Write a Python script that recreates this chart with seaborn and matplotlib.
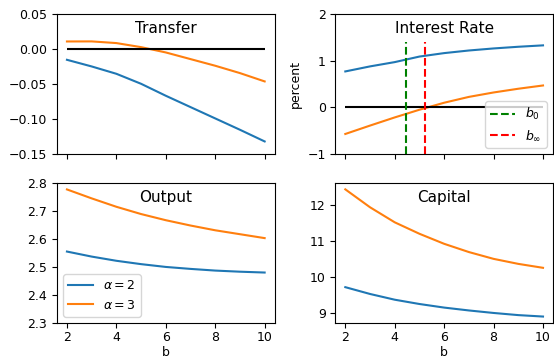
import numpy as np
import pandas as pd
import matplotlib
matplotlib.use("Agg")
import matplotlib.pyplot as plt
from matplotlib.lines import Line2D
import seaborn as sns

# ---- data ----
b = [2, 3, 4, 5, 6, 7, 8, 9, 10]
alpha_labels = [r"$\alpha = 2$", r"$\alpha = 3$"]

transfer_a2 = [-0.0153, -0.0248, -0.0353, -0.0496, -0.0667, -0.0829, -0.0991, -0.1153, -0.132]
transfer_a3 = [0.0109, 0.0110, 0.0086, 0.0028, -0.0048, -0.0143, -0.0238, -0.0343, -0.0462]

rate_a2 = [0.771, 0.879, 0.971, 1.09, 1.164, 1.22, 1.264, 1.30, 1.33]
rate_a3 = [-0.57, -0.39, -0.215, -0.05, 0.10, 0.225, 0.32, 0.40, 0.47]

output_a2 = [2.555, 2.537, 2.522, 2.510, 2.500, 2.493, 2.487, 2.483, 2.480]
output_a3 = [2.777, 2.745, 2.715, 2.689, 2.667, 2.648, 2.631, 2.617, 2.603]

capital_a2 = [9.71, 9.52, 9.36, 9.24, 9.14, 9.06, 8.99, 8.93, 8.89]
capital_a3 = [12.44, 11.94, 11.52, 11.20, 10.92, 10.69, 10.50, 10.36, 10.25]

b0 = 4.44
b_inf = 5.22

titles = ["Transfer", "Interest Rate", "Output", "Capital"]

# ---- build long table ----
def long_df(s2, s3):
    return pd.DataFrame({
        "b": b + b,
        "value": list(s2) + list(s3),
        "alpha": [alpha_labels[0]] * len(b) + [alpha_labels[1]] * len(b),
    })

panels = [long_df(transfer_a2, transfer_a3), long_df(rate_a2, rate_a3),
          long_df(output_a2, output_a3), long_df(capital_a2, capital_a3)]

plt.rcParams.update({
    "font.size": 9,
    "axes.labelsize": 9,
    "xtick.labelsize": 9,
    "ytick.labelsize": 9,
    "legend.fontsize": 9,
    "xtick.major.pad": 2.5,
    "font.family": ["DejaVu Sans"],
    "mathtext.fontset": "dejavusans",
})

palette = ["#1f77b4", "#ff7f0e"]

fig, axes = plt.subplots(2, 2, figsize=(5.54, 3.62), dpi=100, sharex=True)
fig.subplots_adjust(left=0.103, right=0.998, top=0.961, bottom=0.108,
                    wspace=0.28, hspace=0.207)

for ax, df, title in zip(axes.flat, panels, titles):
    sns.lineplot(data=df, x="b", y="value", hue="alpha", palette=palette,
                 ax=ax, legend=False, linewidth=1.5)
    ax.text(0.5, 0.895, title, transform=ax.transAxes, ha="center",
            va="center", fontsize=11)
    ax.set_xlabel("")
    ax.set_ylabel("")

ax_t, ax_r, ax_o, ax_k = axes.flat

# Transfer
ax_t.hlines(0, b[0], b[-1], color="k", linewidth=1.5)
ax_t.set_ylim(-0.15, 0.05)
ax_t.set_yticks([-0.15, -0.10, -0.05, 0.00, 0.05])

# Interest rate
ax_r.hlines(0, b[0], b[-1], color="k", linewidth=1.5)
ax_r.vlines(b0, -1, 1.4, color="g", linestyle="--", linewidth=1.5, label=r"$b_0$")
ax_r.vlines(b_inf, -1, 1.4, color="r", linestyle="--", linewidth=1.5, label=r"$b_\infty$")
ax_r.set_ylim(-1, 2)
ax_r.set_yticks([-1, 0, 1, 2])
ax_r.set_ylabel("percent")
ax_r.legend(loc="lower right")

# Output
ax_o.set_ylim(2.3, 2.8)
ax_o.set_yticks([2.3, 2.4, 2.5, 2.6, 2.7, 2.8])
handles = [Line2D([], [], color=palette[0], linewidth=1.5),
           Line2D([], [], color=palette[1], linewidth=1.5)]
ax_o.legend(handles, alpha_labels, loc="lower left")

# Capital
ax_k.set_yticks([9, 10, 11, 12])

for ax in (ax_o, ax_k):
    ax.set_xlabel("b", labelpad=1)
    ax.set_xticks([2, 4, 6, 8, 10])

fig.savefig("out.png", dpi=100)
